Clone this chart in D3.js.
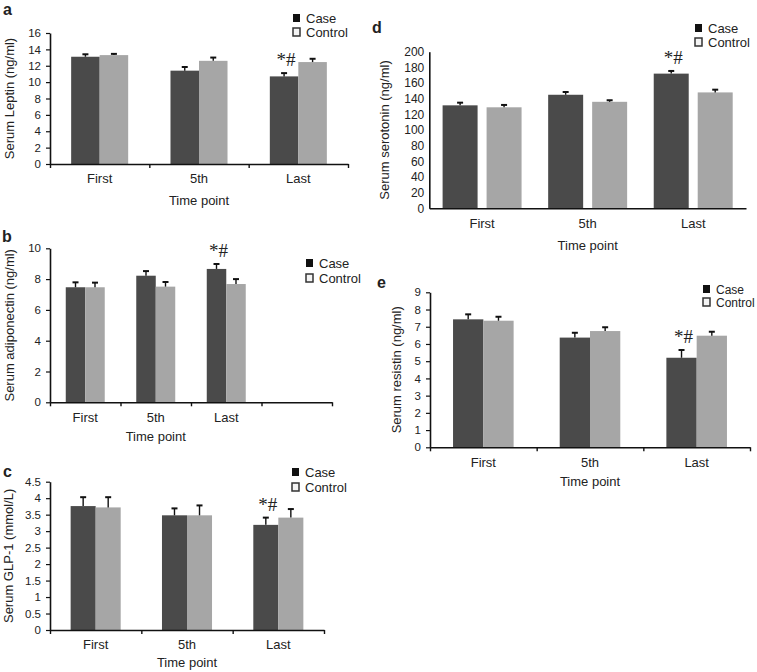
<!DOCTYPE html>
<html>
<head>
<meta charset="utf-8">
<script src="https://cdn.jsdelivr.net/npm/d3@7/dist/d3.min.js"></script>
<style>
  html, body { margin: 0; padding: 0; background: #fff; }
  svg { display: block; }
  text { font-family: "Liberation Sans", Arial, sans-serif; fill: #222; }
</style>
</head>
<body>
<svg id="chart" width="757" height="672"></svg>
<script>
// ---------- Data ----------
const categories = ["First", "5th", "Last"];
const seriesNames = ["Case", "Control"];
const xAxisTitle = "Time point";
const sigMark = "*#";

const leptinCase = [13.1, 11.4, 10.7];
const leptinCaseErr = [0.3, 0.45, 0.4];
const leptinControl = [13.3, 12.6, 12.45];
const leptinControlErr = [0.15, 0.4, 0.4];
const leptinTicks = [0, 2, 4, 6, 8, 10, 12, 14, 16];

const adipoCase = [7.47, 8.22, 8.66];
const adipoCaseErr = [0.32, 0.3, 0.32];
const adipoControl = [7.47, 7.51, 7.68];
const adipoControlErr = [0.3, 0.3, 0.32];
const adipoTicks = [0, 2, 4, 6, 8, 10];

const glpCase = [3.76, 3.48, 3.19];
const glpCaseErr = [0.27, 0.21, 0.22];
const glpControl = [3.72, 3.48, 3.41];
const glpControlErr = [0.31, 0.3, 0.26];
const glpTicks = [0, 0.5, 1, 1.5, 2, 2.5, 3, 3.5, 4, 4.5];

const seroCase = [131.5, 145, 172];
const seroCaseErr = [3.4, 3.5, 3.4];
const seroControl = [129, 136, 148];
const seroControlErr = [3, 2, 3.5];
const seroTicks = [0, 20, 40, 60, 80, 100, 120, 140, 160, 180, 200];

const resCase = [7.43, 6.37, 5.2];
const resCaseErr = [0.29, 0.28, 0.45];
const resControl = [7.35, 6.75, 6.48];
const resControlErr = [0.23, 0.22, 0.23];
const resTicks = [0, 1, 2, 3, 4, 5, 6, 7, 8, 9];

// significance marker shown on which category index
const sigIndex = 2;

// ---------- Layout / style ----------
const colors = { Case: "#4a4a4a", Control: "#a6a6a6" };

const panels = [
  { letter: "a", title: "Serum Leptin (ng/ml)", caseV: leptinCase, caseE: leptinCaseErr, ctrlV: leptinControl, ctrlE: leptinControlErr, ticks: leptinTicks,
    x0: 50, x1: 348, slots: 3, pad: 0.426, gap: 0, yBot: 164, yTop: 33, xtDy: 41, yTick: 4,
    titleX: 10, letterX: 3, letterY: 15, legX: 293, legY: 18, legDy: 14, legFont: 13, xTicks: true, tickFont: 11.5 },
  { letter: "b", title: "Serum adiponectin (ng/ml)", caseV: adipoCase, caseE: adipoCaseErr, ctrlV: adipoControl, ctrlE: adipoControlErr, ticks: adipoTicks,
    x0: 50, x1: 332, slots: 4, pad: 0.447, gap: 0, yBot: 402.3, yTop: 248.3, xtDy: 39, yTick: 4,
    titleX: 10, letterX: 2, letterY: 242, legX: 306, legY: 263, legDy: 15, legFont: 13, xTicks: true, tickFont: 11.5 },
  { letter: "c", title: "Serum GLP-1 (mmol/L)", caseV: glpCase, caseE: glpCaseErr, ctrlV: glpControl, ctrlE: glpControlErr, ticks: glpTicks,
    x0: 50, x1: 324, slots: 3, pad: 0.452, gap: 0, yBot: 630, yTop: 481.7, xtDy: 37, yTick: 4,
    titleX: 9, letterX: 3, letterY: 477, legX: 292, legY: 472, legDy: 15, legFont: 13, xTicks: true, tickFont: 11.5 },
  { letter: "d", title: "Serum serotonin (ng/ml)", caseV: seroCase, caseE: seroCaseErr, ctrlV: seroControl, ctrlE: seroControlErr, ticks: seroTicks,
    x0: 429.3, x1: 746, slots: 3, pad: 0.252, gap: 0.2045, yBot: 208.3, yTop: 51.7, xtDy: 42, yTick: 0,
    titleX: 385, letterX: 372, letterY: 33, legX: 695, legY: 28, legDy: 14, legFont: 13, xTicks: false, tickFont: 12 },
  { letter: "e", title: "Serum resistin (ng/ml)", caseV: resCase, caseE: resCaseErr, ctrlV: resControl, ctrlE: resControlErr, ticks: resTicks,
    x0: 430, x1: 750, slots: 3, pad: 0.432, gap: 0, yBot: 447.3, yTop: 292.3, xtDy: 39, yTick: 4,
    titleX: 397, letterX: 377, letterY: 288, legX: 703, legY: 289, legDy: 13, legFont: 12, xTicks: true, tickFont: 11.5 }
];

const svg = d3.select("#chart");

panels.forEach(p => {
  const g = svg.append("g");
  const slotKeys = d3.range(p.slots).map(i => i < categories.length ? categories[i] : "_slot" + i);

  const x = d3.scaleBand().domain(slotKeys).range([p.x0, p.x1])
    .paddingInner(p.pad).paddingOuter(p.pad / 2);
  const xs = d3.scaleBand().domain(seriesNames).range([0, x.bandwidth()]).paddingInner(p.gap);
  const yMax = p.ticks[p.ticks.length - 1];
  const y = d3.scaleLinear().domain([0, yMax]).range([p.yBot, p.yTop]);

  const rows = [];
  categories.forEach((c, i) => {
    rows.push({ cat: c, s: "Case", v: p.caseV[i], e: p.caseE[i], i });
    rows.push({ cat: c, s: "Control", v: p.ctrlV[i], e: p.ctrlE[i], i });
  });

  // bars
  g.selectAll("rect.bar").data(rows).enter().append("rect")
    .attr("class", "bar")
    .attr("x", d => x(d.cat) + xs(d.s))
    .attr("width", xs.bandwidth())
    .attr("y", d => y(d.v))
    .attr("height", d => y(0) - y(d.v))
    .attr("fill", d => colors[d.s]);

  // error bars (upper only)
  const eb = g.selectAll("g.err").data(rows).enter().append("g").attr("class", "err");
  eb.append("line")
    .attr("x1", d => x(d.cat) + xs(d.s) + xs.bandwidth() / 2)
    .attr("x2", d => x(d.cat) + xs(d.s) + xs.bandwidth() / 2)
    .attr("y1", d => y(d.v))
    .attr("y2", d => y(d.v + d.e))
    .attr("stroke", "#111").attr("stroke-width", 1.4);
  eb.append("line")
    .attr("x1", d => x(d.cat) + xs(d.s) + xs.bandwidth() / 2 - 3)
    .attr("x2", d => x(d.cat) + xs(d.s) + xs.bandwidth() / 2 + 3)
    .attr("y1", d => y(d.v + d.e))
    .attr("y2", d => y(d.v + d.e))
    .attr("stroke", "#111").attr("stroke-width", 2);

  // significance
  const sd = rows.find(r => r.s === "Case" && r.i === sigIndex);
  g.append("text")
    .attr("x", x(sd.cat) + xs("Case") + xs.bandwidth() / 2 + 2)
    .attr("y", y(sd.v + sd.e) - 7)
    .attr("text-anchor", "middle")
    .style("font-family", "'Liberation Serif', 'DejaVu Serif', serif")
    .style("font-size", "19px")
    .text(sigMark);

  // y axis
  const yAxis = d3.axisLeft(y).tickValues(p.ticks).tickSize(p.yTick).tickSizeOuter(0)
    .tickFormat(d => String(d));
  const ya = g.append("g").attr("transform", `translate(${p.x0},0)`).call(yAxis);
  ya.select(".domain").attr("stroke", "#111").attr("stroke-width", 1.6);
  ya.selectAll(".tick line").attr("stroke", "#111").attr("stroke-width", 1.2);
  ya.selectAll(".tick text").attr("x", -(p.yTick + 5)).style("font-size", p.tickFont + "px")
    .style("font-family", "'Liberation Sans', Arial, sans-serif").attr("fill", "#222");

  // x axis: boundary ticks
  const xb = d3.scaleLinear().domain([0, p.slots]).range([p.x0, p.x1]);
  const xbAxis = d3.axisBottom(xb).tickValues(d3.range(p.slots + 1))
    .tickSize(p.xTicks ? 4 : 0).tickSizeOuter(0).tickFormat("");
  const xa = g.append("g").attr("transform", `translate(0,${p.yBot})`).call(xbAxis);
  xa.select(".domain").attr("stroke", "#111").attr("stroke-width", 1.6);
  xa.selectAll(".tick line").attr("stroke", "#111").attr("stroke-width", 1.4);

  // x axis labels
  const xlAxis = d3.axisBottom(x).tickSize(0).tickPadding(10)
    .tickFormat(d => categories.includes(d) ? d : "");
  const xl = g.append("g").attr("transform", `translate(0,${p.yBot})`).call(xlAxis);
  xl.select(".domain").remove();
  xl.selectAll(".tick text").style("font-size", "13px")
    .style("font-family", "'Liberation Sans', Arial, sans-serif").attr("fill", "#222");

  // x title
  g.append("text")
    .attr("x", x(categories[1]) + x.bandwidth() / 2)
    .attr("y", p.yBot + p.xtDy)
    .attr("text-anchor", "middle")
    .style("font-size", "13px")
    .text(xAxisTitle);

  // y title
  g.append("text")
    .attr("transform", `translate(${p.titleX + 4},${(p.yBot + p.yTop) / 2}) rotate(-90)`)
    .attr("text-anchor", "middle")
    .style("font-size", "13px")
    .text(p.title);

  // panel letter
  g.append("text")
    .attr("x", p.letterX).attr("y", p.letterY)
    .style("font-size", "16px").style("font-weight", "bold")
    .attr("fill", "#111")
    .text(p.letter);

  // legend
  seriesNames.forEach((s, k) => {
    const cy = p.legY + k * p.legDy;
    g.append("rect")
      .attr("x", p.legX).attr("y", cy - 4).attr("width", 7).attr("height", 8)
      .attr("fill", s === "Case" ? "#111" : "#f4f4f4")
      .attr("stroke", s === "Case" ? "#111" : "#333").attr("stroke-width", s === "Case" ? 0 : 1.5);
    g.append("text")
      .attr("x", p.legX + 13).attr("y", cy + 4.5)
      .style("font-size", p.legFont + "px")
      .text(s);
  });
});
</script>
</body>
</html>
